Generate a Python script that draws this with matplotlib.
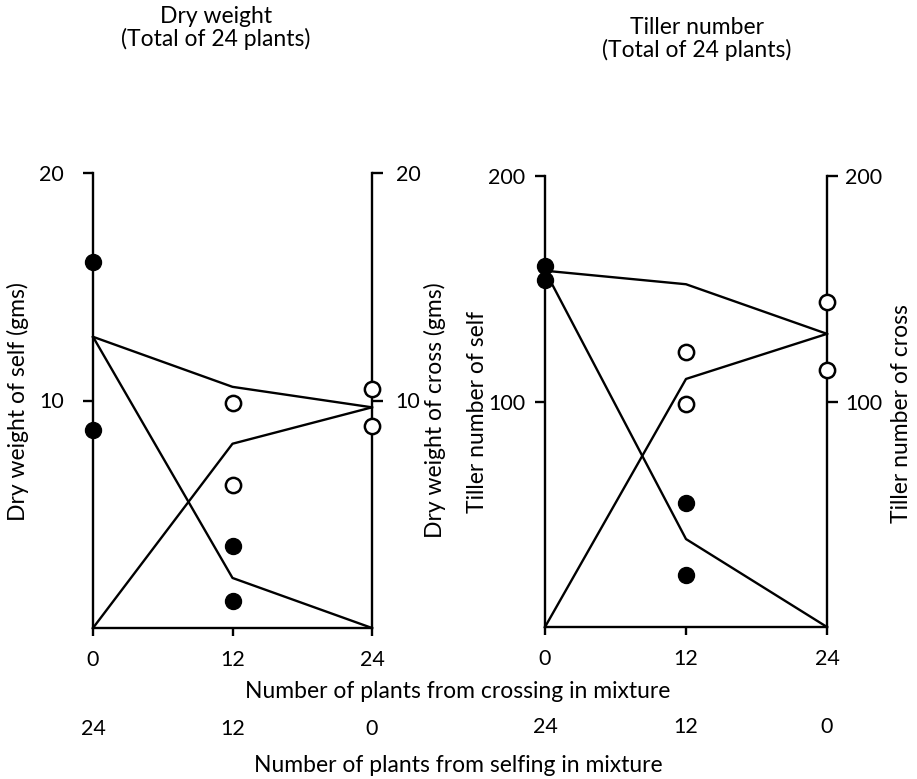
import matplotlib.pyplot as plt

plt.rcParams['font.family'] = ['Lato', 'DejaVu Sans']
FONT_SIZE = 16.5
TICK_SIZE = 15.5
LW = 1.7
W, H = 917, 779

# x positions: number of plants from crossing in mixture
crossing = [0, 12, 24]
selfing_ticks = [24, 12, 0]

# dry weight panel (gms)
dw_self_x = [0, 0, 12, 12]
dw_self_y = [16.1, 8.7, 3.6, 1.2]
dw_cross_x = [12, 12, 24, 24]
dw_cross_y = [9.9, 6.3, 10.5, 8.9]
dw_self_line = [12.8, 2.2, 0]
dw_cross_line = [0, 8.1, 9.7]
dw_total_line = [12.8, 10.6, 9.7]

# tiller number panel
tn_self_x = [0, 0, 12, 12]
tn_self_y = [160, 154, 55, 23]
tn_cross_x = [12, 12, 24, 24]
tn_cross_y = [122, 99, 144, 114]
tn_self_line = [158, 39, 0]
tn_cross_line = [0, 110, 130]
tn_total_line = [158, 152, 130]


def fig_xy(x, y):
    """pixel position -> figure fraction"""
    return x / W, 1 - y / H


def draw_panel(rect, ymax, self_x, self_y, cross_x, cross_y, self_line, cross_line, total_line,
               left_pad, right_pad):
    ax = fig.add_axes(rect)
    ax.set_xlim(0, 24)
    ax.set_ylim(0, ymax)
    ax.spines['top'].set_visible(False)
    for side in ['left', 'right', 'bottom']:
        ax.spines[side].set_linewidth(LW)

    for line in [self_line, cross_line, total_line]:
        ax.plot(crossing, line, color='black', lw=LW, clip_on=False)
    ax.plot(self_x, self_y, 'o', ms=11.5, color='black', clip_on=False, zorder=5)
    ax.plot(cross_x, cross_y, 'o', ms=11, mfc='white', mec='black', mew=1.8, clip_on=False, zorder=5)

    ax.set_xticks(crossing)
    ax.tick_params(axis='x', direction='out', length=6, width=LW, pad=10, labelsize=TICK_SIZE)
    ax.set_yticks([ymax // 2, ymax])
    ax.tick_params(axis='y', direction='out', length=7, width=LW, pad=left_pad, labelsize=TICK_SIZE)

    # right hand scale (same values)
    sec_y = ax.secondary_yaxis('right')
    sec_y.spines['right'].set_visible(False)
    sec_y.set_yticks([ymax // 2, ymax])
    sec_y.tick_params(direction='out', length=8, width=LW, pad=right_pad, labelsize=TICK_SIZE)

    # second scale: plants from selfing
    sec_x = ax.secondary_xaxis(-0.19, functions=(lambda x: 24 - x, lambda x: 24 - x))
    sec_x.spines['bottom'].set_visible(False)
    sec_x.set_xticks(selfing_ticks)
    sec_x.tick_params(length=0, pad=3, labelsize=TICK_SIZE)
    return ax


fig = plt.figure(figsize=(W / 100, H / 100), dpi=100)

draw_panel([93 / W, 1 - 628 / H, 279 / W, 455 / H], 20,
           dw_self_x, dw_self_y, dw_cross_x, dw_cross_y, dw_self_line, dw_cross_line, dw_total_line,
           left_pad=14, right_pad=9)
draw_panel([545 / W, 1 - 627 / H, 282 / W, 451 / H], 200,
           tn_self_x, tn_self_y, tn_cross_x, tn_cross_y, tn_self_line, tn_cross_line, tn_total_line,
           left_pad=7, right_pad=5)

# titles
fig.text(*fig_xy(216, 28), 'Dry weight\n(Total of 24 plants)', ha='center', va='center',
         fontsize=FONT_SIZE, linespacing=1.0)
fig.text(*fig_xy(697, 39), 'Tiller number\n(Total of 24 plants)', ha='center', va='center',
         fontsize=FONT_SIZE, linespacing=1.0)

# axis labels
fig.text(*fig_xy(18, 402), 'Dry weight of self (gms)', rotation=90, ha='center', va='center', fontsize=FONT_SIZE)
fig.text(*fig_xy(435, 410), 'Dry weight of cross (gms)', rotation=90, ha='center', va='center', fontsize=FONT_SIZE)
fig.text(*fig_xy(478, 412), 'Tiller number of self', rotation=90, ha='center', va='center', fontsize=FONT_SIZE)
fig.text(*fig_xy(902, 414), 'Tiller number of cross', rotation=90, ha='center', va='center', fontsize=FONT_SIZE)

fig.text(*fig_xy(458, 692), 'Number of plants from crossing in mixture', ha='center', va='center', fontsize=FONT_SIZE)
fig.text(*fig_xy(458, 765), 'Number of plants from selfing in mixture', ha='center', va='center', fontsize=FONT_SIZE)

fig.savefig('out.png', dpi=100)
